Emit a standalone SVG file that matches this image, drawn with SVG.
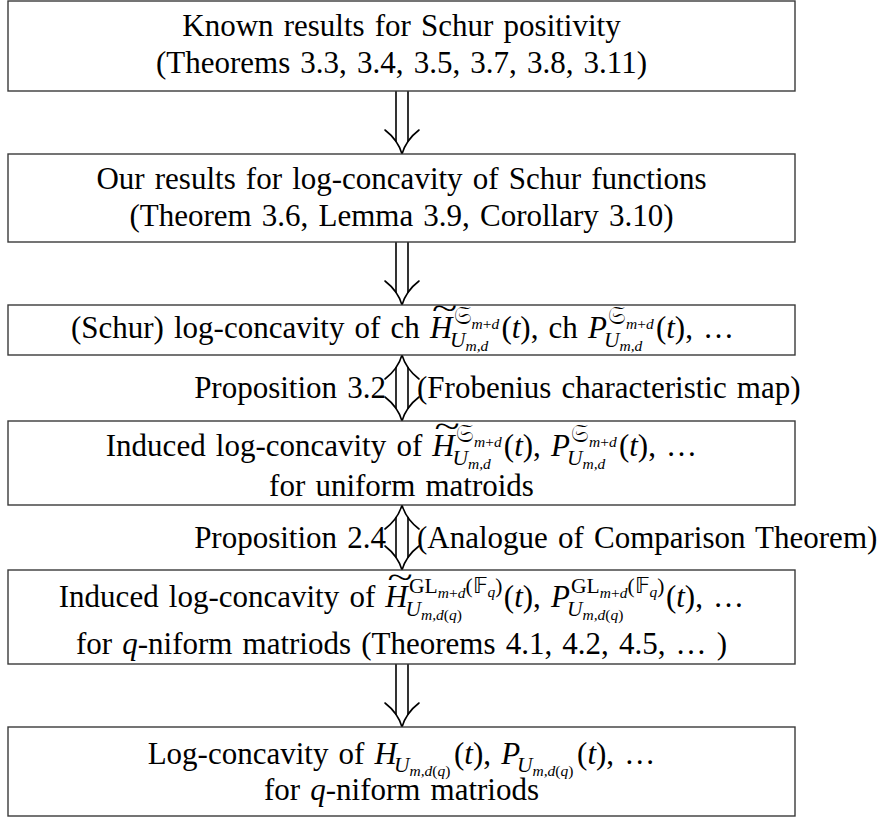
<svg xmlns="http://www.w3.org/2000/svg" width="881" height="819" viewBox="0 0 881 819">
<style>
.t{font-family:"Liberation Serif","Times New Roman",serif;font-size:31px;word-spacing:2.4px;fill:#000}
.m{text-anchor:middle}
.e{text-anchor:end}
.i{font-style:italic}
.s1{font-size:21.5px;word-spacing:0}
.s2{font-size:15.5px;word-spacing:0}
.fk{font-size:25px}
.bx{fill:#fff;stroke:#3a3a3a;stroke-width:1.4}
.ar{fill:none;stroke:#000;stroke-width:1.6;stroke-linecap:round}
</style>
<defs>
<path id="hd" d="M-17,-24 Q-4,-14 0,0 Q4,-14 17,-24"/>
</defs>
<rect width="881" height="819" fill="#fff"/>

<g id="connectors" class="ar">
  <line x1="396" y1="91" x2="396" y2="141.4"/><line x1="408" y1="91" x2="408" y2="141.4"/>
  <use href="#hd" transform="translate(402,154)"/>
  <line x1="396" y1="242" x2="396" y2="292.4"/><line x1="408" y1="242" x2="408" y2="292.4"/>
  <use href="#hd" transform="translate(402,305)"/>
  <line x1="396" y1="367.6" x2="396" y2="408.4"/><line x1="408" y1="367.6" x2="408" y2="408.4"/>
  <use href="#hd" transform="translate(402,355) scale(1,-1)"/>
  <use href="#hd" transform="translate(402,421)"/>
  <line x1="396" y1="517.6" x2="396" y2="557.4"/><line x1="408" y1="517.6" x2="408" y2="557.4"/>
  <use href="#hd" transform="translate(402,505) scale(1,-1)"/>
  <use href="#hd" transform="translate(402,570)"/>
  <line x1="396" y1="664" x2="396" y2="714.4"/><line x1="408" y1="664" x2="408" y2="714.4"/>
  <use href="#hd" transform="translate(402,727)"/>
</g>

<g id="label-prop32">
  <text class="t e" x="386" y="398">Proposition 3.2</text>
  <text class="t" x="417" y="398">(Frobenius characteristic map)</text>
</g>
<g id="label-prop24">
  <text class="t e" x="386" y="548">Proposition 2.4</text>
  <text class="t" x="417" y="548">(Analogue of Comparison Theorem)</text>
</g>

<g id="node1">
  <rect class="bx" x="8" y="1" width="787" height="90"/>
  <text class="t m" x="401.5" y="36">Known results for Schur positivity</text>
  <text class="t m" x="401.5" y="73">(Theorems 3.3, 3.4, 3.5, 3.7, 3.8, 3.11)</text>
</g>

<g id="node2">
  <rect class="bx" x="8" y="154" width="787" height="88"/>
  <text class="t m" x="401.5" y="189">Our results for log-concavity of Schur functions</text>
  <text class="t m" x="401.5" y="226">(Theorem 3.6, Lemma 3.9, Corollary 3.10)</text>
</g>

<g id="node3">
  <rect class="bx" x="8" y="305" width="787" height="50"/>
  <text class="t" x="70.9" y="338">(Schur) log-concavity of ch <tspan class="i">H</tspan></text>
  <text class="t m" transform="translate(444.5,319) scale(1.5,1)">~</text>
  <text class="t s1" x="453.5" y="324"><tspan class="fk">𝔖</tspan><tspan class="s2 i" dy="5">m</tspan><tspan class="s2">+</tspan><tspan class="s2 i">d</tspan></text>
  <text class="t s1 i" x="450" y="347">U<tspan class="s2" dy="4">m,d</tspan></text>
  <text class="t" x="501.4" y="338">(<tspan class="i">t</tspan>), ch <tspan class="i">P</tspan></text>
  <text class="t s1" x="608" y="324"><tspan class="fk">𝔖</tspan><tspan class="s2 i" dy="5">m</tspan><tspan class="s2">+</tspan><tspan class="s2 i">d</tspan></text>
  <text class="t s1 i" x="604" y="347">U<tspan class="s2" dy="4">m,d</tspan></text>
  <text class="t" x="655.9" y="338">(<tspan class="i">t</tspan>), …</text>
</g>

<g id="node4">
  <rect class="bx" x="8" y="421" width="787" height="84"/>
  <text class="t" x="105.8" y="456">Induced log-concavity of <tspan class="i">H</tspan></text>
  <text class="t m" transform="translate(447,437) scale(1.5,1)">~</text>
  <text class="t s1" x="456" y="442"><tspan class="fk">𝔖</tspan><tspan class="s2 i" dy="5">m</tspan><tspan class="s2">+</tspan><tspan class="s2 i">d</tspan></text>
  <text class="t s1 i" x="452.5" y="465">U<tspan class="s2" dy="4">m,d</tspan></text>
  <text class="t" x="503.8" y="456">(<tspan class="i">t</tspan>), <tspan class="i">P</tspan></text>
  <text class="t s1" x="571" y="442"><tspan class="fk">𝔖</tspan><tspan class="s2 i" dy="5">m</tspan><tspan class="s2">+</tspan><tspan class="s2 i">d</tspan></text>
  <text class="t s1 i" x="567" y="465">U<tspan class="s2" dy="4">m,d</tspan></text>
  <text class="t" x="618.9" y="456">(<tspan class="i">t</tspan>), …</text>
  <text class="t m" x="401.5" y="496">for uniform matroids</text>
</g>

<g id="node5">
  <rect class="bx" x="8" y="570" width="787" height="94"/>
  <text class="t" x="58.8" y="607">Induced log-concavity of <tspan class="i">H</tspan></text>
  <text class="t m" transform="translate(400,588) scale(1.5,1)">~</text>
  <text class="t s1" x="409" y="593">GL<tspan class="s2 i" dy="5">m</tspan><tspan class="s2">+</tspan><tspan class="s2 i">d</tspan><tspan dy="-5">(𝔽</tspan><tspan class="s2 i" dy="4">q</tspan><tspan dy="-4">)</tspan></text>
  <text class="t s1 i" x="405.5" y="616">U<tspan class="s2" dy="4">m,d</tspan><tspan class="s2" font-style="normal">(</tspan><tspan class="s2">q</tspan><tspan class="s2" font-style="normal">)</tspan></text>
  <text class="t" x="503.8" y="607">(<tspan class="i">t</tspan>), <tspan class="i">P</tspan></text>
  <text class="t s1" x="571" y="593">GL<tspan class="s2 i" dy="5">m</tspan><tspan class="s2">+</tspan><tspan class="s2 i">d</tspan><tspan dy="-5">(𝔽</tspan><tspan class="s2 i" dy="4">q</tspan><tspan dy="-4">)</tspan></text>
  <text class="t s1 i" x="567" y="616">U<tspan class="s2" dy="4">m,d</tspan><tspan class="s2" font-style="normal">(</tspan><tspan class="s2">q</tspan><tspan class="s2" font-style="normal">)</tspan></text>
  <text class="t" x="665.9" y="607">(<tspan class="i">t</tspan>), …</text>
  <text class="t m" x="401.5" y="654">for <tspan class="i">q</tspan>-niform matriods (Theorems 4.1, 4.2, 4.5, … )</text>
</g>

<g id="node6">
  <rect class="bx" x="8" y="727" width="787" height="89"/>
  <text class="t" x="147.7" y="764">Log-concavity of <tspan class="i">H</tspan></text>
  <text class="t s1 i" x="394" y="772">U<tspan class="s2" dy="4">m,d</tspan><tspan class="s2" font-style="normal">(</tspan><tspan class="s2">q</tspan><tspan class="s2" font-style="normal">)</tspan></text>
  <text class="t" x="454" y="764">(<tspan class="i">t</tspan>), <tspan class="i">P</tspan></text>
  <text class="t s1 i" x="517" y="772">U<tspan class="s2" dy="4">m,d</tspan><tspan class="s2" font-style="normal">(</tspan><tspan class="s2">q</tspan><tspan class="s2" font-style="normal">)</tspan></text>
  <text class="t" x="577.1" y="764">(<tspan class="i">t</tspan>), …</text>
  <text class="t m" x="401.5" y="800">for <tspan class="i">q</tspan>-niform matriods</text>
</g>
</svg>
